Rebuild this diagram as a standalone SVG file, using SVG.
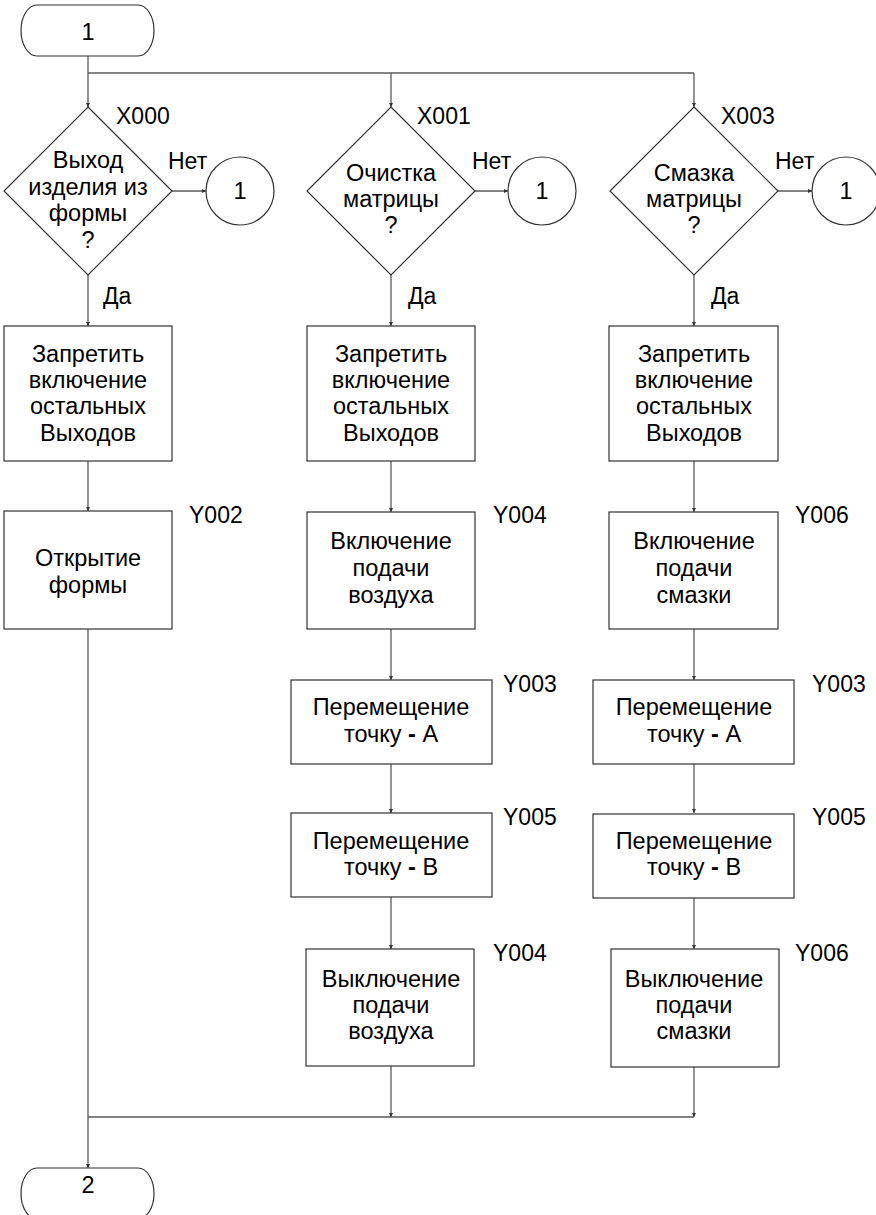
<svg xmlns="http://www.w3.org/2000/svg" width="876" height="1215" viewBox="0 0 876 1215">
  <style>
    .shape { fill: #ffffff; stroke: #333333; stroke-width: 1.2; }
    .conn { fill: none; stroke: #5a5a5a; stroke-width: 1.3; }
    text { font-family: "Liberation Sans", Arial, sans-serif; font-size: 23.5px; fill: #000000; }
    .c { text-anchor: middle; }
    .b { font-weight: bold; }
    .lbl { font-size: 23px; }
  </style>
  <defs>
    <marker id="arr" viewBox="0 0 6 6" refX="6" refY="3" markerWidth="4" markerHeight="4" orient="auto" markerUnits="userSpaceOnUse">
      <path d="M0,0 L6,3 L0,6 z" fill="#333333"/>
    </marker>
  </defs>

  <rect width="876" height="1215" fill="#ffffff"/>

  <!-- connectors -->
  <g id="connectors" class="conn">
    <line x1="88" y1="56" x2="88" y2="107" marker-end="url(#arr)"/>
    <line x1="88" y1="73" x2="694" y2="73"/>
    <line x1="391" y1="73" x2="391" y2="107" marker-end="url(#arr)"/>
    <line x1="694" y1="73" x2="694" y2="107" marker-end="url(#arr)"/>

    <line x1="172" y1="191" x2="206" y2="191" marker-end="url(#arr)"/>
    <line x1="475" y1="191" x2="508" y2="191" marker-end="url(#arr)"/>
    <line x1="778" y1="191" x2="812" y2="191" marker-end="url(#arr)"/>

    <line x1="88" y1="275" x2="88" y2="326" marker-end="url(#arr)"/>
    <line x1="391" y1="275" x2="391" y2="326" marker-end="url(#arr)"/>
    <line x1="694" y1="275" x2="694" y2="326" marker-end="url(#arr)"/>

    <line x1="88" y1="461" x2="88" y2="511" marker-end="url(#arr)"/>
    <line x1="391" y1="461" x2="391" y2="512" marker-end="url(#arr)"/>
    <line x1="694" y1="461" x2="694" y2="512" marker-end="url(#arr)"/>

    <line x1="391" y1="629" x2="391" y2="680" marker-end="url(#arr)"/>
    <line x1="694" y1="629" x2="694" y2="680" marker-end="url(#arr)"/>
    <line x1="391" y1="764" x2="391" y2="813" marker-end="url(#arr)"/>
    <line x1="694" y1="764" x2="694" y2="813" marker-end="url(#arr)"/>
    <line x1="391" y1="897" x2="391" y2="949" marker-end="url(#arr)"/>
    <line x1="694" y1="898" x2="694" y2="949" marker-end="url(#arr)"/>
    <line x1="391" y1="1066" x2="391" y2="1117" marker-end="url(#arr)"/>
    <line x1="694" y1="1067" x2="694" y2="1117" marker-end="url(#arr)"/>

    <line x1="88" y1="1117" x2="694" y2="1117"/>
    <line x1="88" y1="629" x2="88" y2="1168" marker-end="url(#arr)"/>
  </g>

  <!-- start terminal -->
  <g id="start">
    <rect class="shape" x="21" y="5" width="133" height="51" rx="16" ry="25.5"/>
    <text class="c" x="88" y="40">1</text>
  </g>

  <!-- column 1 -->
  <g id="dec-x000">
    <polygon class="shape" points="88,107 172,191 88,275 4,191"/>
    <text class="lbl" x="116" y="124">X000</text>
    <text class="c" x="88" y="168">Выход</text>
    <text class="c" x="88" y="194.5">изделия из</text>
    <text class="c" x="88" y="221">формы</text>
    <text class="c" x="88" y="247.5">?</text>
    <text class="lbl" x="168" y="169">Нет</text>
    <text class="lbl" x="103" y="304">Да</text>
  </g>
  <g id="conn-1a">
    <circle class="shape" cx="240" cy="191" r="34"/>
    <text class="c" x="240" y="199">1</text>
  </g>
  <g id="block-1">
    <rect class="shape" x="4" y="326" width="168" height="135"/>
    <text class="c" x="88" y="362">Запретить</text>
    <text class="c" x="88" y="388">включение</text>
    <text class="c" x="88" y="414">остальных</text>
    <text class="c" x="88" y="441">Выходов</text>
  </g>
  <g id="open-mold">
    <rect class="shape" x="4" y="511" width="168" height="118"/>
    <text class="lbl" x="189" y="523">Y002</text>
    <text class="c" x="88" y="566">Открытие</text>
    <text class="c" x="88" y="593">формы</text>
  </g>

  <!-- column 2 -->
  <g id="dec-x001">
    <polygon class="shape" points="391,107 475,191 391,275 307,191"/>
    <text class="lbl" x="417" y="124">X001</text>
    <text class="c" x="391" y="181">Очистка</text>
    <text class="c" x="391" y="207">матрицы</text>
    <text class="c" x="391" y="233">?</text>
    <text class="lbl" x="472" y="169">Нет</text>
    <text class="lbl" x="408" y="304">Да</text>
  </g>
  <g id="conn-1b">
    <circle class="shape" cx="542" cy="191" r="34"/>
    <text class="c" x="542" y="199">1</text>
  </g>
  <g id="block-2">
    <rect class="shape" x="307" y="326" width="168" height="135"/>
    <text class="c" x="391" y="362">Запретить</text>
    <text class="c" x="391" y="388">включение</text>
    <text class="c" x="391" y="414">остальных</text>
    <text class="c" x="391" y="441">Выходов</text>
  </g>
  <g id="air-on">
    <rect class="shape" x="307" y="512" width="168" height="117"/>
    <text class="lbl" x="493" y="523">Y004</text>
    <text class="c" x="391" y="549">Включение</text>
    <text class="c" x="391" y="576">подачи</text>
    <text class="c" x="391" y="603">воздуха</text>
  </g>
  <g id="move-a-2">
    <rect class="shape" x="291" y="680" width="201" height="84"/>
    <text class="lbl" x="503" y="692">Y003</text>
    <text class="c" x="391" y="715">Перемещение</text>
    <text class="c" x="391" y="742">точку <tspan class="b">-</tspan> А</text>
  </g>
  <g id="move-b-2">
    <rect class="shape" x="291" y="813" width="201" height="84"/>
    <text class="lbl" x="503" y="825">Y005</text>
    <text class="c" x="391" y="849">Перемещение</text>
    <text class="c" x="391" y="875">точку <tspan class="b">-</tspan> B</text>
  </g>
  <g id="air-off">
    <rect class="shape" x="306" y="949" width="168" height="117"/>
    <text class="lbl" x="493" y="961">Y004</text>
    <text class="c" x="391" y="987">Выключение</text>
    <text class="c" x="391" y="1013">подачи</text>
    <text class="c" x="391" y="1039">воздуха</text>
  </g>

  <!-- column 3 -->
  <g id="dec-x003">
    <polygon class="shape" points="694,107 778,191 694,275 610,191"/>
    <text class="lbl" x="721" y="124">X003</text>
    <text class="c" x="694" y="181">Смазка</text>
    <text class="c" x="694" y="207">матрицы</text>
    <text class="c" x="694" y="233">?</text>
    <text class="lbl" x="775" y="169">Нет</text>
    <text class="lbl" x="711" y="304">Да</text>
  </g>
  <g id="conn-1c">
    <circle class="shape" cx="846" cy="191" r="34"/>
    <text class="c" x="846" y="199">1</text>
  </g>
  <g id="block-3">
    <rect class="shape" x="609" y="326" width="169" height="135"/>
    <text class="c" x="694" y="362">Запретить</text>
    <text class="c" x="694" y="388">включение</text>
    <text class="c" x="694" y="414">остальных</text>
    <text class="c" x="694" y="441">Выходов</text>
  </g>
  <g id="lube-on">
    <rect class="shape" x="609" y="512" width="169" height="117"/>
    <text class="lbl" x="795" y="523">Y006</text>
    <text class="c" x="694" y="549">Включение</text>
    <text class="c" x="694" y="576">подачи</text>
    <text class="c" x="694" y="603">смазки</text>
  </g>
  <g id="move-a-3">
    <rect class="shape" x="593" y="680" width="201" height="84"/>
    <text class="lbl" x="812" y="692">Y003</text>
    <text class="c" x="694" y="715">Перемещение</text>
    <text class="c" x="694" y="742">точку <tspan class="b">-</tspan> А</text>
  </g>
  <g id="move-b-3">
    <rect class="shape" x="593" y="814" width="201" height="84"/>
    <text class="lbl" x="812" y="825">Y005</text>
    <text class="c" x="694" y="849">Перемещение</text>
    <text class="c" x="694" y="875">точку <tspan class="b">-</tspan> B</text>
  </g>
  <g id="lube-off">
    <rect class="shape" x="611" y="949" width="168" height="118"/>
    <text class="lbl" x="795" y="961">Y006</text>
    <text class="c" x="694" y="987">Выключение</text>
    <text class="c" x="694" y="1013">подачи</text>
    <text class="c" x="694" y="1039">смазки</text>
  </g>

  <!-- end terminal -->
  <g id="end">
    <rect class="shape" x="21" y="1168" width="133" height="51" rx="16" ry="25.5"/>
    <text class="c" x="88" y="1193">2</text>
  </g>
</svg>
